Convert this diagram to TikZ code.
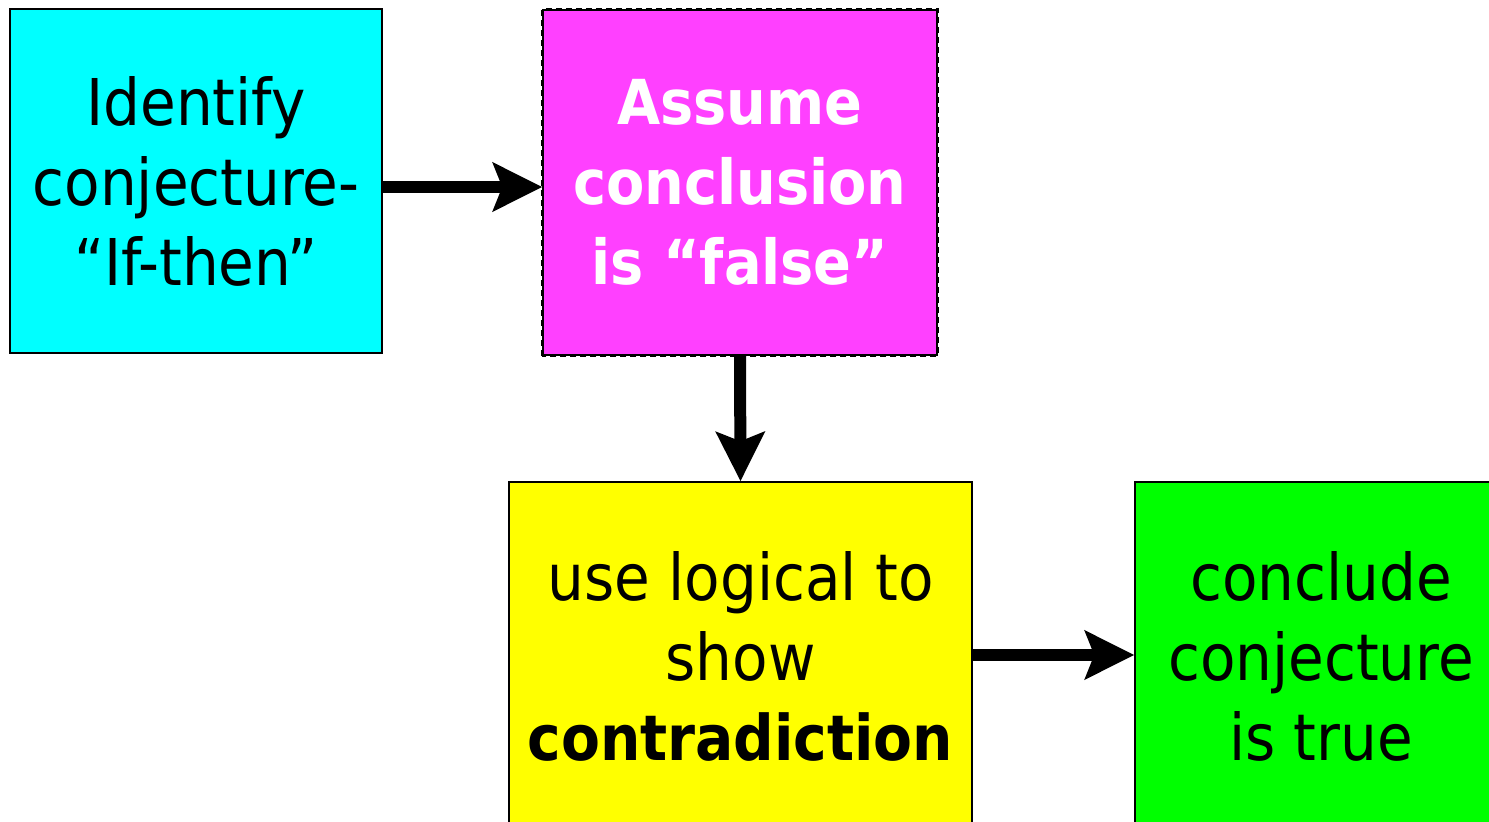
\documentclass[tikz,border=0pt]{standalone}
\usepackage{fontspec}
\setmainfont{DejaVu Sans Condensed}
\usetikzlibrary{arrows.meta}
\definecolor{cbox}{HTML}{00FFFF}
\definecolor{mbox}{HTML}{FF40FF}
\definecolor{ybox}{HTML}{FFFF00}
\definecolor{gbox}{HTML}{00FF00}
\tikzset{
  stepbox/.style={draw=black, line width=1.5pt, inner sep=0pt, align=center,
    font=\fontsize{64.5}{80}\selectfont},
  bigarrow/.style={line width=12pt, -{Stealth[length=49pt,width=48pt,inset=9pt]}}
}
\begin{document}
\begin{tikzpicture}[x=1pt,y=-1pt]
\useasboundingbox (0,0) rectangle (1489,822);
\node[stepbox, fill=cbox, minimum width=372pt, minimum height=344pt] (a) at (196,181)
  {Identify\\conjecture-\\“If-then”};
\node[stepbox, fill=mbox, text=white, font=\fontsize{62}{80}\selectfont\bfseries,
  minimum width=394pt, minimum height=345pt] (b) at (740,182.5)
  {Assume\\conclusion\\is “false”};
\draw[line width=3pt, dash pattern=on 6pt off 4pt] (b.south west) rectangle (b.north east);
\node[stepbox, fill=ybox, minimum width=463pt, minimum height=348pt] (c) at (740.5,656)
  {use logical to\\show\\{\fontsize{63}{80}\selectfont\bfseries contradiction}};
\node[stepbox, fill=gbox, minimum width=372pt, minimum height=348pt] (d) at (1321,656)
  {conclude\\conjecture\\is true};
\draw[bigarrow] (a.east |- 0,187) -- (b.west |- 0,187);
\draw[bigarrow] (b.south) -- (c.north);
\draw[bigarrow] (c.east |- 0,655) -- (d.west |- 0,655);
\end{tikzpicture}
\end{document}
